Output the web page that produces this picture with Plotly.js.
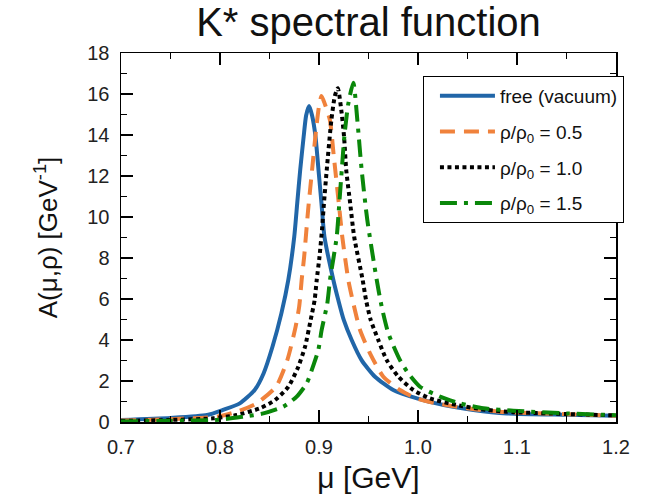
<!DOCTYPE html>
<html>
<head>
<meta charset="utf-8">
<script src="https://cdn.plot.ly/plotly-3.0.1.min.js"></script>
<style>html,body{margin:0;padding:0;background:#fff;}#chart{width:645px;height:501px;}</style>
</head>
<body>
<div id="chart"></div>
<script>
// Values (mu in GeV, A in GeV^-1)
const freeMu = [0.70, 0.75, 0.787, 0.803, 0.820, 0.835, 0.844, 0.853, 0.862, 0.869, 0.875, 0.878, 0.881, 0.8845, 0.887, 0.890, 0.893, 0.8965, 0.8995, 0.9025, 0.9055, 0.9145, 0.9195, 0.925, 0.933, 0.943, 0.9566, 0.975, 0.999, 1.026, 1.056, 1.090, 1.15, 1.20];
const freeA  = [0.10, 0.20, 0.34, 0.59, 0.91, 1.56, 2.37, 3.67, 5.30, 6.93, 9.04, 10.67, 12.29, 13.92, 14.95, 15.41, 14.95, 13.92, 12.29, 10.67, 9.04, 6.93, 5.95, 4.98, 4.00, 3.02, 2.21, 1.56, 1.15, 0.83, 0.59, 0.42, 0.35, 0.30];

const halfMu = [0.70, 0.75, 0.797, 0.817, 0.837, 0.8566, 0.868, 0.8764, 0.880, 0.8825, 0.885, 0.889, 0.893, 0.897, 0.900, 0.9025, 0.906, 0.911, 0.915, 0.920, 0.9235, 0.9296, 0.9347, 0.9414, 0.9515, 0.965, 0.9818, 0.9987, 1.0188, 1.0492, 1.0828, 1.15, 1.20];
const halfA  = [0.07, 0.14, 0.26, 0.50, 0.91, 1.72, 3.02, 4.65, 5.63, 6.93, 8.06, 10.34, 12.29, 14.24, 15.4, 15.9, 15.5, 14.73, 12.94, 10.67, 9.04, 6.93, 5.79, 4.49, 3.35, 2.21, 1.56, 1.15, 0.91, 0.67, 0.50, 0.38, 0.31];

const oneMu = [0.70, 0.75, 0.7933, 0.8169, 0.8404, 0.8556, 0.869, 0.8791, 0.8859, 0.8916, 0.8956, 0.8977, 0.9005, 0.903, 0.905, 0.9078, 0.9125, 0.916, 0.919, 0.9229, 0.9253, 0.9275, 0.9315, 0.9355, 0.9441, 0.9475, 0.9522, 0.9599, 0.9684, 0.9801, 0.9953, 1.0121, 1.0391, 1.0694, 1.0963, 1.15, 1.20];
const oneA  = [0.05, 0.10, 0.18, 0.34, 0.67, 1.07, 1.72, 2.70, 3.67, 4.98, 5.95, 6.93, 8.06, 9.37, 10.67, 12.29, 14.73, 15.9, 16.28, 15.06, 13.92, 12.29, 10.67, 9.04, 6.93, 5.95, 4.98, 4.00, 3.02, 2.21, 1.56, 1.15, 0.83, 0.59, 0.48, 0.39, 0.32];

const onehalfMu = [0.70, 0.75, 0.80, 0.8236, 0.8438, 0.864, 0.8775, 0.8876, 0.895, 0.8993, 0.9027, 0.9084, 0.9111, 0.9179, 0.9205, 0.923, 0.9256, 0.9295, 0.9347, 0.9387, 0.9431, 0.9488, 0.9583, 0.9633, 0.970, 0.9818, 0.9902, 1.002, 1.0222, 1.0424, 1.066, 1.0963, 1.15, 1.20];
const onehalfA  = [0.03, 0.06, 0.11, 0.26, 0.42, 0.75, 1.24, 1.89, 2.86, 3.51, 4.49, 5.79, 6.93, 9.04, 10.67, 12.29, 13.92, 15.5, 16.55, 14.73, 12.29, 9.85, 6.93, 5.63, 4.33, 3.02, 2.37, 1.72, 1.24, 0.91, 0.67, 0.55, 0.42, 0.33];

const seriesNames = ['free (vacuum)', 'ρ/ρ<sub>0</sub> = 0.5', 'ρ/ρ<sub>0</sub> = 1.0', 'ρ/ρ<sub>0</sub> = 1.5'];
const xTickVals = [0.7, 0.8, 0.9, 1.0, 1.1, 1.2];
const xTickText = ['0.7', '0.8', '0.9', '1.0', '1.1', '1.2'];

const FONT = 'Liberation Sans, Arial, sans-serif';

const traces = [
  {x: freeMu, y: freeA, name: seriesNames[0], legendgroup: 'a', line: {color: '#2166a8', width: 4, shape: 'spline', smoothing: 0.6}},
  {x: halfMu, y: halfA, name: seriesNames[1], legendgroup: 'b', line: {color: '#f0823c', width: 4, dash: '15px,9px', shape: 'spline', smoothing: 0.6}},
  {x: oneMu, y: oneA, name: seriesNames[2], legendgroup: 'c', line: {color: '#000000', width: 4, dash: '4px,3.5px', shape: 'spline', smoothing: 0.6}},
  {x: onehalfMu, y: onehalfA, name: seriesNames[3], legendgroup: 'd', line: {color: '#0a870a', width: 4, dash: '17px,7px,4px,7px', shape: 'spline', smoothing: 0.6}}
].map(t => Object.assign({type: 'scatter', mode: 'lines', hoverinfo: 'skip'}, t));

const axisCommon = {
  showline: true, linecolor: '#000', linewidth: 1.5, mirror: 'allticks',
  ticks: 'inside', ticklen: 12, tickwidth: 1.5, tickcolor: '#000',
  showgrid: false, zeroline: false,
  tickfont: {family: FONT, size: 20, color: '#222'},
  minor: {ticks: 'inside', ticklen: 6, tickwidth: 1.5, tickcolor: '#000', showgrid: false}
};

const layout = {
  width: 645, height: 501,
  margin: {l: 121, r: 29, t: 53, b: 79},
  paper_bgcolor: '#fff', plot_bgcolor: '#fff',
  font: {family: FONT, color: '#111'},
  title: {text: 'K* spectral function', font: {family: FONT, size: 40, color: '#111'}, xref: 'paper', x: 0.5, xanchor: 'center', yref: 'container', y: 0.956, yanchor: 'middle'},
  xaxis: Object.assign({}, axisCommon, {
    range: [0.7, 1.2], tickvals: xTickVals, ticktext: xTickText,
    minor: Object.assign({}, axisCommon.minor, {dtick: 0.05, tick0: 0.7}),
    ticklabelstandoff: 6,
    title: {text: 'μ [GeV]', font: {family: FONT, size: 30, color: '#111'}, standoff: 10}
  }),
  yaxis: Object.assign({}, axisCommon, {
    range: [0, 18], dtick: 2, tick0: 0,
    minor: Object.assign({}, axisCommon.minor, {dtick: 1, tick0: 0}),
    ticklabelstandoff: 6,
    title: {text: 'A(μ,ρ) [GeV<sup>-1</sup>]', font: {family: FONT, size: 26, color: '#111'}, standoff: 22}
  }),
  showlegend: true,
  legend: {
    x: 0.61, y: 0.9377, xanchor: 'left', yanchor: 'top',
    bgcolor: '#fff', bordercolor: '#000', borderwidth: 1,
    font: {family: FONT, size: 19, color: '#111'},
    traceorder: 'grouped', tracegroupgap: 8, itemwidth: 55, indentation: 11
  }
};

Plotly.newPlot('chart', traces, layout, {displayModeBar: false, staticPlot: true});
</script>
</body>
</html>
